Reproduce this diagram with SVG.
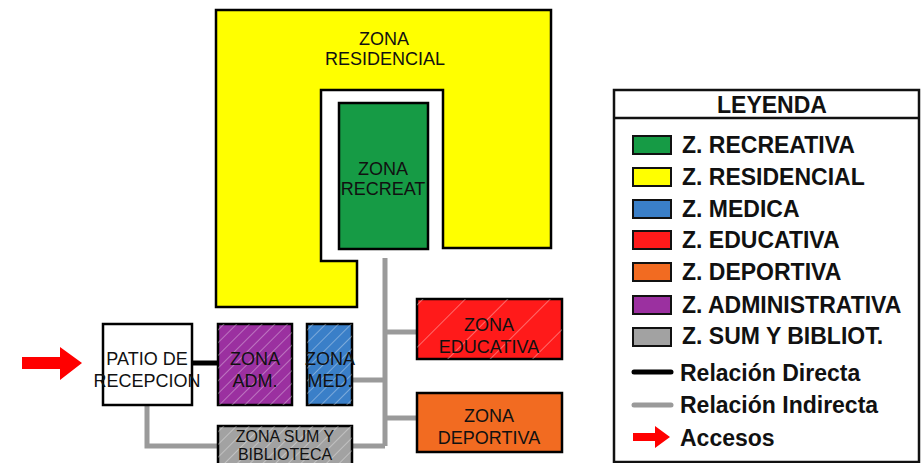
<svg xmlns="http://www.w3.org/2000/svg" width="924" height="463" viewBox="0 0 924 463">
<style>
.zone{stroke:#000;stroke-width:2.5}
.lbl{font-family:"Liberation Sans",Arial,sans-serif;font-size:18px;fill:#111;text-anchor:middle}
.sm{font-size:16px}
.leg{font-family:"Liberation Sans",Arial,sans-serif;font-size:23px;font-weight:bold;fill:#111}
.title{text-anchor:middle}
.ind{stroke:#9a9a9a;stroke-width:5;fill:none}
.dir{stroke:#000;stroke-width:5;fill:none}
.sw{stroke:#111;stroke-width:2}
</style>
<defs>
<pattern id="hatch" patternUnits="userSpaceOnUse" width="9" height="9" patternTransform="rotate(45)">
<line x1="0" y1="0" x2="0" y2="9" stroke="#fff" stroke-opacity="0.55" stroke-width="1.2"/>
</pattern>
<pattern id="hatchW" patternUnits="userSpaceOnUse" width="30" height="30" patternTransform="rotate(45)">
<line x1="0" y1="0" x2="0" y2="30" stroke="#fff" stroke-opacity="0.6" stroke-width="1.2"/>
</pattern>
</defs>
<rect width="924" height="463" fill="#fff"/>

<g id="connectors">
<polyline class="ind" points="385,258 385,446"/>
<polyline class="ind" points="352,380 385,380"/>
<polyline class="ind" points="385,332 417,332"/>
<polyline class="ind" points="385,418 417,418"/>
<polyline class="ind" points="147,405 147,446 218,446"/>
<polyline class="ind" points="352,446 385,446"/>
<line class="dir" x1="192" y1="363" x2="218" y2="363"/>
</g>

<g id="zona-residencial">
<polygon class="zone" fill="#ffff00" points="216,10 551,10 551,248 443,248 443,90 321,90 321,261 357,261 357,307 216,307"/>
<text class="lbl" x="384" y="45">ZONA</text>
<text class="lbl" x="385" y="65">RESIDENCIAL</text>
</g>

<g id="zona-recreativa">
<rect class="zone" x="339" y="103" width="89" height="146" fill="#169b45"/>
<text class="lbl" x="383" y="175">ZONA</text>
<text class="lbl" x="383" y="195">RECREAT</text>
</g>

<g id="acceso">
<polygon fill="#ff0000" points="22,357 60,357 60,347 82,363 60,380 60,369 22,369"/>
</g>

<g id="patio-recepcion">
<rect class="zone" x="103" y="324" width="89" height="81" fill="#fff"/>
<text class="lbl" x="147" y="365">PATIO DE</text>
<text class="lbl" x="147" y="387">RECEPCION</text>
</g>

<g id="zona-adm">
<rect class="zone" x="218" y="324" width="74" height="81" fill="#9b30a0"/>
<rect x="218" y="324" width="74" height="81" fill="url(#hatch)"/>
<text class="lbl" x="255" y="365">ZONA</text>
<text class="lbl" x="255" y="387">ADM.</text>
</g>

<g id="zona-med">
<rect class="zone" x="307" y="324" width="45" height="81" fill="#3a7fc8"/>
<rect x="307" y="324" width="45" height="81" fill="url(#hatch)"/>
<text class="lbl" x="330" y="365">ZONA</text>
<text class="lbl" x="330" y="387">MED.</text>
</g>

<g id="zona-sum">
<rect class="zone" x="218" y="426" width="134" height="45" fill="#a2a2a2"/>
<rect x="218" y="426" width="134" height="45" fill="url(#hatch)"/>
<text class="lbl sm" x="285" y="442">ZONA  SUM Y</text>
<text class="lbl sm" x="285" y="460">BIBLIOTECA</text>
</g>

<g id="zona-educativa">
<rect class="zone" x="417" y="299" width="145" height="60" fill="#ff1a1a"/>
<rect x="417" y="299" width="145" height="60" fill="url(#hatchW)"/>
<text class="lbl" x="489" y="331">ZONA</text>
<text class="lbl" x="489" y="353">EDUCATIVA</text>
</g>

<g id="zona-deportiva">
<rect class="zone" x="417" y="393" width="145" height="59" fill="#f26b21"/>
<text class="lbl" x="489" y="422">ZONA</text>
<text class="lbl" x="489" y="444">DEPORTIVA</text>
</g>

<g id="leyenda">
<rect x="614" y="90" width="305" height="372" fill="#fff" stroke="#111" stroke-width="2.5"/>
<line x1="614" y1="118" x2="919" y2="118" stroke="#111" stroke-width="2.5"/>
<text class="leg title" x="772" y="113">LEYENDA</text>
<rect class="sw" x="633" y="136" width="38" height="18" fill="#169b45"/>
<text class="leg" x="682" y="153">Z. RECREATIVA</text>
<rect class="sw" x="633" y="168" width="38" height="18" fill="#ffff00"/>
<text class="leg" x="682" y="185">Z. RESIDENCIAL</text>
<rect class="sw" x="633" y="200" width="38" height="18" fill="#3a7fc8"/>
<text class="leg" x="682" y="217">Z. MEDICA</text>
<rect class="sw" x="633" y="231" width="38" height="18" fill="#ff1a1a"/>
<text class="leg" x="682" y="248">Z. EDUCATIVA</text>
<rect class="sw" x="633" y="263" width="38" height="18" fill="#f26b21"/>
<text class="leg" x="682" y="280">Z. DEPORTIVA</text>
<rect class="sw" x="633" y="296" width="38" height="18" fill="#9b30a0"/>
<text class="leg" x="682" y="313">Z. ADMINISTRATIVA</text>
<rect class="sw" x="633" y="328" width="38" height="18" fill="#a2a2a2"/>
<text class="leg" x="682" y="344">Z. SUM Y BIBLIOT.</text>
<line x1="634" y1="372" x2="671" y2="372" stroke="#000" stroke-width="5" stroke-linecap="round"/>
<text class="leg" x="680" y="381">Relación Directa</text>
<line x1="634" y1="405" x2="671" y2="405" stroke="#9a9a9a" stroke-width="5" stroke-linecap="round"/>
<text class="leg" x="680" y="413">Relación Indirecta</text>
<polygon fill="#ff0000" points="633,433 655,433 655,426 670,437 655,448 655,441 633,441"/>
<text class="leg" x="680" y="446">Accesos</text>
</g>
</svg>
